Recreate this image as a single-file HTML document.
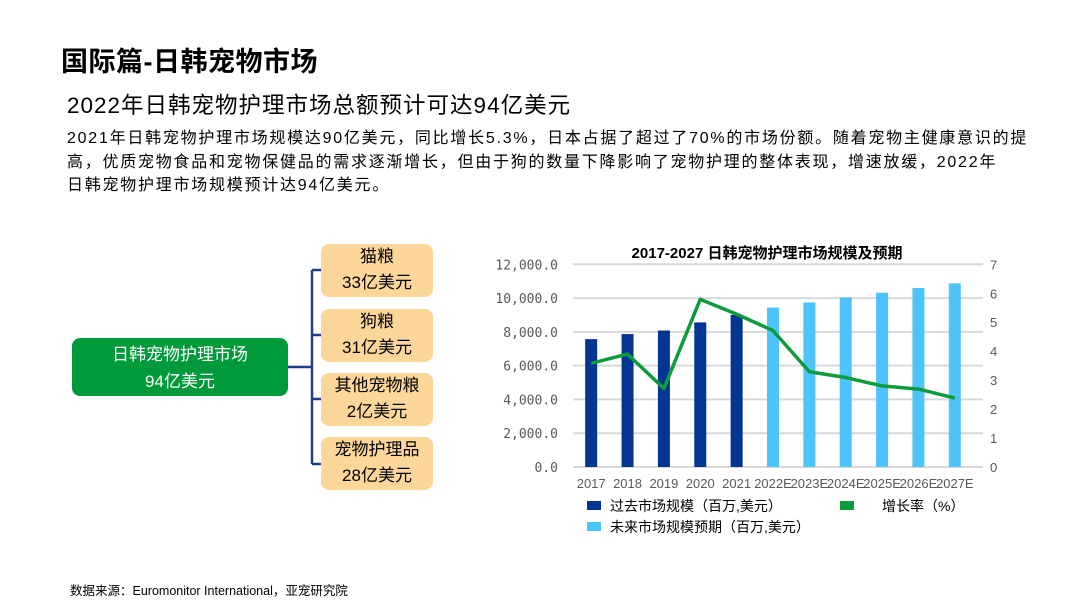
<!DOCTYPE html>
<html><head><meta charset="utf-8">
<style>
body{margin:0;width:1080px;height:608px;background:#fff;font-family:"Liberation Sans","Noto Sans CJK SC",sans-serif;position:relative;overflow:hidden;color:#000}
.abs{position:absolute}
.box{position:absolute;background:#fdd699;border-radius:8px;text-align:center;font-size:17px;line-height:26px;width:112px;height:53px;left:321px}
</style></head><body>
<div class="abs" style="left:61px;top:40px;font-size:27px;font-weight:bold;letter-spacing:0.5px">国际篇-日韩宠物市场</div>
<div class="abs" style="left:67px;top:88px;font-size:22.5px;letter-spacing:1px">2022年日韩宠物护理市场总额预计可达94亿美元</div>
<div class="abs" style="left:67px;top:127px;width:1000px;font-size:16px;line-height:23.5px;white-space:nowrap;letter-spacing:1.75px">2021年日韩宠物护理市场规模达90亿美元，同比增长5.3%，日本占据了超过了70%的市场份额。随着宠物主健康意识的提<br>高，优质宠物食品和宠物保健品的需求逐渐增长，但由于狗的数量下降影响了宠物护理的整体表现，增速放缓，2022年<br>日韩宠物护理市场规模预计达94亿美元。</div>
<svg class="abs" style="left:0;top:0" width="1080" height="608">
<g stroke="#1f3c88" stroke-width="2.5" fill="none"><path d="M288 367H312M312 270V464M312 270H321M312 335H321M312 399H321M312 464H321"/></g></svg>
<div class="abs" style="left:72px;top:338px;width:216px;height:58px;background:#009a3a;border-radius:8px;color:#fff;text-align:center;font-size:17px;line-height:27px;padding-top:3px;box-sizing:border-box">日韩宠物护理市场<br>94亿美元</div>
<div class="box" style="top:244px">猫粮<br>33亿美元</div>
<div class="box" style="top:309px">狗粮<br>31亿美元</div>
<div class="box" style="top:373px">其他宠物粮<br>2亿美元</div>
<div class="box" style="top:437px">宠物护理品<br>28亿美元</div>
<svg id="chart" class="abs" style="left:0;top:0" width="1080" height="608"></svg>
<div class="abs" style="left:70px;top:580px;font-size:12.5px">数据来源：Euromonitor International，亚宠研究院</div>
<script>
const categories=["2017","2018","2019","2020","2021","2022E","2023E","2024E","2025E","2026E","2027E"];
const marketSize=[7570,7870,8080,8560,9010,9440,9740,10040,10320,10600,10870];
const growthRate=[3.58,3.9,2.71,5.79,5.28,4.71,3.29,3.09,2.8,2.69,2.38];
const leftTicks=["0.0","2,000.0","4,000.0","6,000.0","8,000.0","10,000.0","12,000.0"];
const rightTicks=["0","1","2","3","4","5","6","7"];
const pastCount=5;
const svg=document.getElementById('chart');const NS="http://www.w3.org/2000/svg";
const x0=573,x1=973,yb=467,yt=264.3,step=(x1-x0)/categories.length;
const yL=v=>yb-(v/12000)*(yb-yt), yR=v=>yb-(v/7)*(yb-yt), xc=i=>x0+step*(i+0.5);
function mk(t,a,txt){const e=document.createElementNS(NS,t);for(const k in a)e.setAttribute(k,a[k]);if(txt!=null)e.textContent=txt;svg.appendChild(e);return e;}
const ttl=mk('text',{x:767,y:258,'text-anchor':'middle','font-size':15,'font-weight':'bold','font-family':'Liberation Sans,Noto Sans CJK SC,sans-serif'},'2017-2027  日韩宠物护理市场规模及预期');


leftTicks.forEach((t,i)=>{const v=i*2000;
const g=mk('line',{x1:x0,x2:x1+10,y1:yL(v),y2:yL(v),stroke:'#d9d9d9','stroke-width':2});


const l=mk('text',{x:558,y:yL(v)+5,'text-anchor':'end','font-size':13,fill:'#595959','font-family':'DejaVu Sans Mono,monospace'},t);

});
rightTicks.forEach((t,i)=>{const l=mk('text',{x:990,y:yR(i)+5,'font-size':13,fill:'#595959'},t);

});
categories.forEach((c,i)=>{const h=yb-yL(marketSize[i]);
const b=mk('rect',{x:xc(i)-6,y:yL(marketSize[i]),width:12,height:h,fill:i<pastCount?'#033592':'#4fc3fb'});


const l=mk('text',{x:xc(i),y:488,'text-anchor':'middle','font-size':13,fill:'#595959'},c);

});
const ln=mk('polyline',{points:growthRate.map((v,i)=>xc(i)+','+yR(v)).join(' '),fill:'none',stroke:'#0e9b3c','stroke-width':3.5,'stroke-linejoin':'round'});


[[577,501,'#033592','过去市场规模（百万,美元）'],[830,501,'#0e9b3c','增长率（%）'],[577,522,'#4fc3fb','未来市场规模预期（百万,美元）']].forEach((e,k)=>{
const r=mk('rect',{x:e[0]+10,y:e[1],width:14,height:9,fill:e[2]});


const t=mk('text',{x:k==1?e[0]+52:e[0]+33,y:e[1]+10,'font-size':14,'font-family':'Liberation Sans,Noto Sans CJK SC,sans-serif'},e[3]);

});
</script>
</body></html>
